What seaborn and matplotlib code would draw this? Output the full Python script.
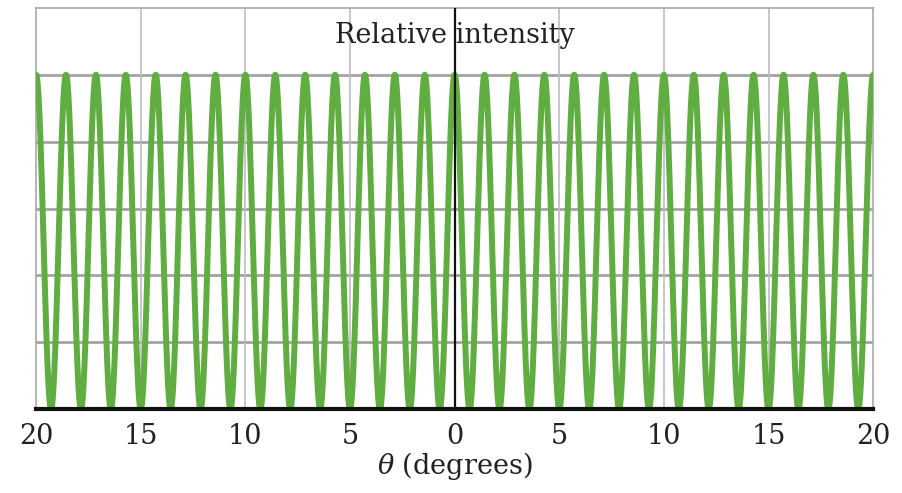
import numpy as np
import pandas as pd
import matplotlib
matplotlib.use("Agg")
import matplotlib.pyplot as plt
import seaborn as sns

# values
theta_range = [-20, 20]          # degrees
fringes_per_side = 14            # bright fringes between 0 and 20 degrees
tick_pos = [-20, -15, -10, -5, 0, 5, 10, 15, 20]
tick_labels = ["20", "15", "10", "5", "0", "5", "10", "15", "20"]
y_grid = [0.2, 0.4, 0.6, 0.8, 1.0]

# double slit pattern: I = cos^2(pi * theta / fringe spacing)
spacing = (theta_range[1] - 0) / fringes_per_side
theta = np.linspace(theta_range[0], theta_range[1], 4001)
df = pd.DataFrame({"theta": theta, "I": np.cos(np.pi * theta / spacing) ** 2})

sns.set_style("white")
plt.rcParams["font.family"] = ["DejaVu Serif"]
plt.rcParams["mathtext.fontset"] = "dejavuserif"

fig = plt.figure(figsize=(9.03, 4.93), dpi=100)
ax = fig.add_axes([0.040, 0.170, 0.927, 0.814])

for y in y_grid:
    ax.axhline(y, color="#a3a3a3", lw=2, zorder=1)
for x in [-15, -10, -5, 5, 10, 15]:
    ax.axvline(x, color="#bcbcc4", lw=1.2, zorder=1)

sns.lineplot(data=df, x="theta", y="I", color="#60ad42", lw=4.3, ax=ax, zorder=3)
ax.axvline(0, color="#111111", lw=1.6, zorder=4)

ax.set_xlim(theta_range)
ax.set_ylim(0, 1.2)
ax.set_xticks(tick_pos)
ax.set_xticklabels(tick_labels, fontsize=19.5, color="#222222")
ax.set_yticks([])
ax.tick_params(axis="x", length=0, pad=10)

for side in ["left", "right", "top"]:
    ax.spines[side].set_color("#a8a8a8")
    ax.spines[side].set_linewidth(1.2)
ax.spines["bottom"].set_color("#111111")
ax.spines["bottom"].set_linewidth(3)
ax.spines["bottom"].set_zorder(5)

ax.set_xlabel(r"$\theta$ (degrees)", fontsize=19.5, color="#222222", labelpad=0)
ax.set_ylabel("")
ax.text(0, 1.117, "Relative intensity", ha="center", va="center",
        fontsize=19.5, color="#222222", zorder=5)

fig.savefig("out.png", dpi=100)
